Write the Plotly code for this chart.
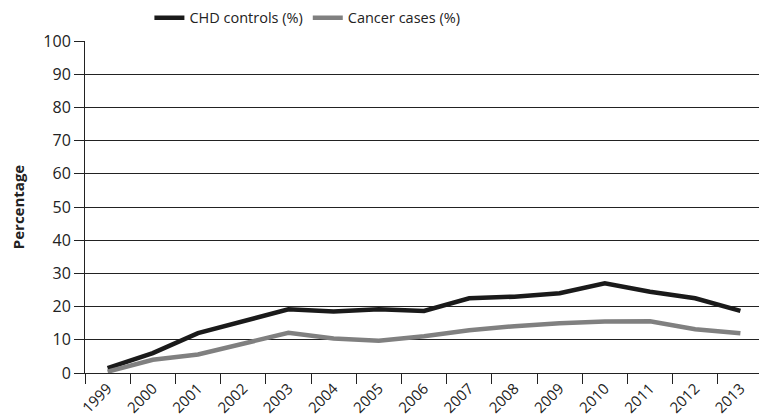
import plotly.graph_objects as go

years = ["1999", "2000", "2001", "2002", "2003", "2004", "2005", "2006",
         "2007", "2008", "2009", "2010", "2011", "2012", "2013"]
chd_controls = [1.5, 6.0, 12.0, 15.7, 19.2, 18.5, 19.2, 18.7, 22.5, 23.0, 24.0, 27.0, 24.5, 22.5, 18.7]
cancer_cases = [0.4, 4.0, 5.6, 8.9, 12.1, 10.4, 9.7, 11.1, 12.9, 14.1, 15.0, 15.5, 15.6, 13.2, 12.0]
y_ticks = [0, 10, 20, 30, 40, 50, 60, 70, 80, 90, 100]

FONT = "Open Sans"
fig = go.Figure()
fig.add_trace(go.Scatter(x=years, y=chd_controls, name="CHD controls (%)", mode="lines",
                         line=dict(color="#1a1a1a", width=4.5)))
fig.add_trace(go.Scatter(x=years, y=cancer_cases, name="Cancer cases (%)", mode="lines",
                         line=dict(color="#808080", width=4.5)))

# page body has an 8px margin, so the figure is 8px smaller and shifted
fig.update_layout(
    width=759, height=412,
    margin=dict(l=77, r=4, t=33, b=47, autoexpand=False),
    paper_bgcolor="white", plot_bgcolor="white",
    font=dict(family=FONT, size=15, color="#222"),
    showlegend=True,
    legend=dict(orientation="h", x=0.095, xanchor="left", y=1.118, yanchor="top",
                xref="paper", yref="paper", font=dict(size=14.5),
                itemwidth=30, traceorder="normal", tracegroupgap=0),
    xaxis=dict(type="category", tickson="boundaries", ticks="outside", ticklen=10,
               range=[-0.5, 14.5], automargin=False,
               tickcolor="#222", showline=True, linecolor="#222", linewidth=1,
               showgrid=False, tickangle=-45, tickfont=dict(size=15), mirror=False),
    yaxis=dict(range=[0, 100], tickvals=y_ticks, ticks="outside", ticklen=10,
               automargin=False,
               tickcolor="#222", showline=True, linecolor="#222", linewidth=1,
               showgrid=True, gridcolor="#222", gridwidth=1, zeroline=False,
               mirror=True, tickfont=dict(size=16),
               title=dict(text="<b>Percentage</b>", font=dict(size=15), standoff=20)),
)
fig.write_html("out.html")
